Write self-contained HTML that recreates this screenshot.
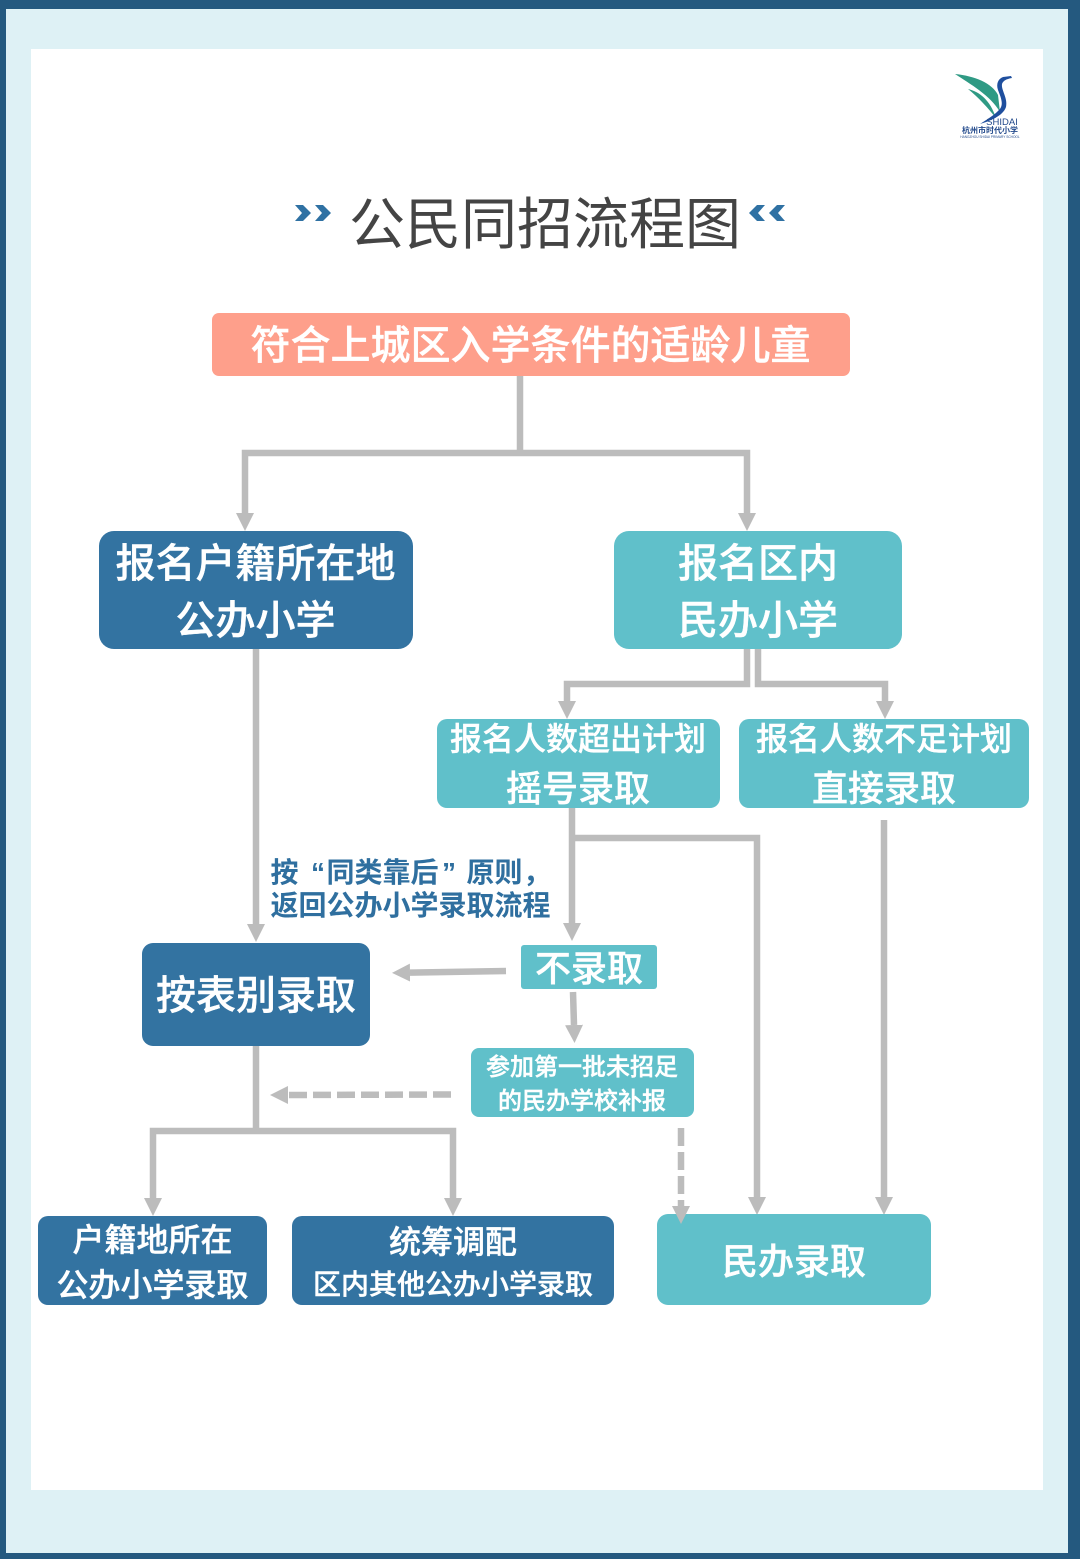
<!DOCTYPE html>
<html lang="zh-CN">
<head>
<meta charset="utf-8">
<title>公民同招流程图</title>
<style>
html,body{margin:0;padding:0;background:#24597f;}
body{width:1080px;height:1559px;overflow:hidden;}
svg{display:block;}
text{font-family:"Liberation Sans","Noto Sans CJK SC",sans-serif;text-anchor:middle;}
.w{fill:#fff;font-weight:500;stroke:#fff;stroke-width:.4px;}
</style>
</head>
<body>
<svg width="1080" height="1559" viewBox="0 0 1080 1559" xmlns="http://www.w3.org/2000/svg">
<defs>
<marker id="a" markerUnits="userSpaceOnUse" markerWidth="19" markerHeight="18" refX="0" refY="9" orient="auto"><path d="M0 0 L18 9 L0 18 Z" fill="#bcbcbc"/></marker>
</defs>
<rect width="1080" height="1559" fill="#24597f"/>
<rect x="6" y="9" width="1062" height="1544" fill="#def1f5"/>
<rect x="31" y="49" width="1012" height="1441" fill="#fff"/>

<!-- logo -->
<path d="M955 74 C975 76 992 83 998 95 L1000 112 C990 95 970 84 955 74 Z" fill="#2f9a84"/>
<path d="M968 89 C980 92 990 100 996 118 C988 108 978 97 968 89 Z" fill="#2f9a84"/>
<path d="M1011 76 L1003 77 C998 79 996 84 998 90 C1002 100 1004 106 998 111 C993 116 986 120 980 124 C990 121 1003 116 1006 107 C1008 98 1001 90 1002 84 C1003 81 1006 79 1012 78 Z" fill="#1f4f9e"/>
<text x="1002" y="125" font-size="9.5" fill="#234a8c">SHIDAI</text>
<text x="990" y="133" font-size="8" fill="#234a8c" font-weight="700">杭州市时代小学</text>
<text x="990" y="138" font-size="3.2" fill="#234a8c">HANGZHOU SHIDAI PRIMARY SCHOOL</text>

<!-- title -->
<text x="545" y="244" font-size="56" fill="#444" font-weight="400">公民同招流程图</text>
<g fill="#2f71a3">
<path d="M295 205h8l8 8-8 8h-8l7-8z"/>
<path d="M315 205h8l8 8-8 8h-8l7-8z"/>
<path d="M765 205h-8l-8 8 8 8h8l-7-8z"/>
<path d="M785 205h-8l-8 8 8 8h8l-7-8z"/>
</g>

<!-- connectors -->
<g fill="none" stroke="#bcbcbc" stroke-width="6.5">
<path d="M520 376V453"/>
<path d="M520 453H245V513" marker-end="url(#a)"/>
<path d="M520 453H747V513" marker-end="url(#a)"/>
<path d="M256 649V924" marker-end="url(#a)"/>
<path d="M747 649V684H567V701" marker-end="url(#a)"/>
<path d="M758 649V684H885V701" marker-end="url(#a)"/>
<path d="M572 808V923" marker-end="url(#a)"/>
<path d="M572 838H757V1197" marker-end="url(#a)"/>
<path d="M884 820V1197" marker-end="url(#a)"/>
<path d="M506 971L410 972.6" marker-end="url(#a)"/>
<path d="M573 992L574 1025" marker-end="url(#a)"/>
<path d="M451 1094.5L288 1095" stroke-dasharray="18 6" marker-end="url(#a)"/>
<path d="M256 1046V1131"/>
<path d="M256 1131H153V1198" marker-end="url(#a)"/>
<path d="M256 1131H453V1198" marker-end="url(#a)"/>
</g>

<!-- nodes -->
<rect x="212" y="313" width="638" height="63" rx="7" fill="#fe9f8b"/>
<text class="w" x="530.500" y="359" font-size="40">符合上城区入学条件的适龄儿童</text>

<rect x="99" y="531" width="314" height="118" rx="15" fill="#3373a1"/>
<text class="w" x="255.500" y="577" font-size="40">报名户籍所在地</text>
<text class="w" x="255.500" y="634" font-size="40">公办小学</text>

<rect x="614" y="531" width="288" height="118" rx="15" fill="#60c0ca"/>
<text class="w" x="758" y="577" font-size="40">报名区内</text>
<text class="w" x="758" y="634" font-size="40">民办小学</text>

<rect x="437" y="719" width="283" height="89" rx="10" fill="#60c0ca"/>
<text class="w" x="578" y="750" font-size="32">报名人数超出计划</text>
<text class="w" x="578" y="801" font-size="36">摇号录取</text>

<rect x="739" y="719" width="290" height="89" rx="10" fill="#60c0ca"/>
<text class="w" x="884" y="750" font-size="32">报名人数不足计划</text>
<text class="w" x="884" y="801" font-size="36">直接录取</text>

<text y="882" font-size="28" fill="#2f6f9f" font-weight="700" style="text-anchor:start"><tspan x="270.500">按</tspan><tspan x="311">“</tspan><tspan x="326.500">同类靠后</tspan><tspan x="442">”</tspan><tspan x="466.500">原则</tspan><tspan x="523">，</tspan></text>
<text x="270.500" y="915" font-size="28" fill="#2f6f9f" font-weight="700" style="text-anchor:start">返回公办小学录取流程</text>

<rect x="142" y="943" width="228" height="103" rx="11" fill="#3373a1"/>
<text class="w" x="256" y="1009" font-size="40">按表别录取</text>

<rect x="521" y="945" width="136" height="44" rx="3" fill="#60c0ca"/>
<text class="w" x="589" y="981" font-size="36">不录取</text>

<rect x="471" y="1048" width="223" height="69" rx="8" fill="#60c0ca"/>
<text class="w" x="582" y="1075" font-size="24">参加第一批未招足</text>
<text class="w" x="582" y="1109" font-size="24">的民办学校补报</text>

<rect x="38" y="1216" width="229" height="89" rx="10" fill="#3373a1"/>
<text class="w" x="152.500" y="1251" font-size="32">户籍地所在</text>
<text class="w" x="152.500" y="1296" font-size="32">公办小学录取</text>

<rect x="292" y="1216" width="322" height="89" rx="10" fill="#3373a1"/>
<text class="w" x="453" y="1253" font-size="32">统筹调配</text>
<text class="w" x="453" y="1294" font-size="28">区内其他公办小学录取</text>

<rect x="657" y="1214" width="274" height="91" rx="11" fill="#60c0ca"/>
<text class="w" x="794" y="1274" font-size="36">民办录取</text>

<!-- dashed arrow overlapping the node -->
<path d="M681 1128V1206" fill="none" stroke="#bcbcbc" stroke-width="6.5" stroke-dasharray="18 6" marker-end="url(#a)"/>
</svg>
</body>
</html>
